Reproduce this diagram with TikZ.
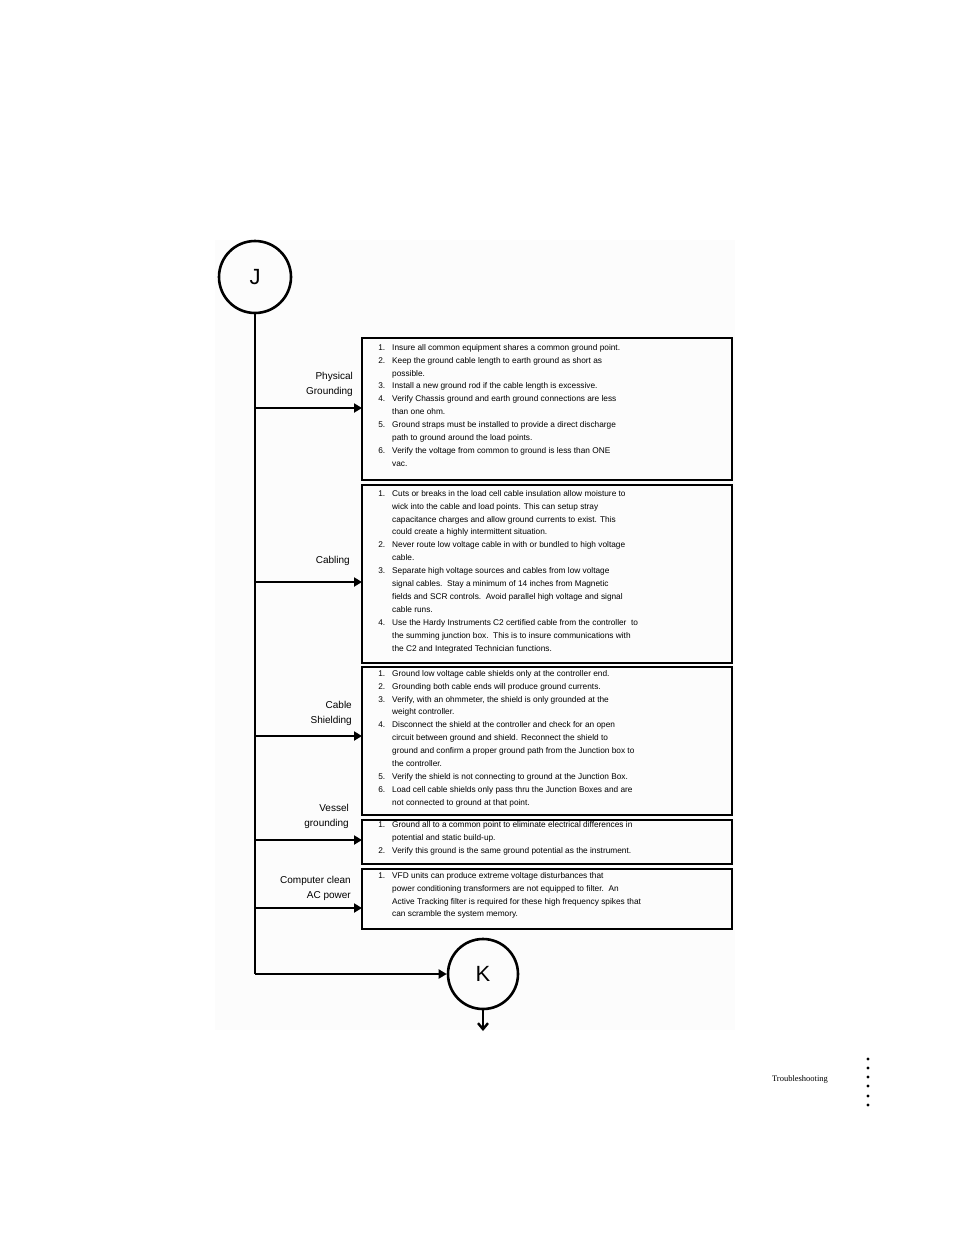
\documentclass[tikz,border=0pt]{standalone}
\usepackage{fontspec}
\setmainfont{Liberation Sans}
\newfontfamily\serifx{Liberation Serif}
\usetikzlibrary{arrows.meta}
\newcommand{\nl}[2]{\makebox[14pt][r]{#1}\hspace{7pt}#2\\}
\begin{document}
\begin{tikzpicture}[x=1pt,y=-1pt,
  boxx/.style={draw,line width=2.6pt,anchor=north west,inner sep=0pt},
  txt/.style={anchor=north west,align=left,inner sep=0pt,font=\fontsize{8.3}{12.9}\selectfont},
  lab/.style={align=right,anchor=east,font=\fontsize{10}{15}\selectfont,inner sep=0pt},
  circ/.style={draw,circle,line width=2.6pt,minimum size=72pt,font=\fontsize{22}{22}\selectfont,inner sep=0pt},
  arr/.style={line width=2.6pt,-{Triangle[length=8pt,width=9pt]}}]
\useasboundingbox (0,0) rectangle (954,1235);
\fill[black!1] (215,240) rectangle (735,1030);
\node[circ] (J) at (255,277) {J};
\node[circ,minimum size=70pt] (K) at (483,974) {K};
% boxes
\draw[line width=2.6pt] (362,338) rectangle (732,480);
\draw[line width=2.6pt] (362,485) rectangle (732,663);
\draw[line width=2.6pt] (362,667) rectangle (732,815);
\draw[line width=2.6pt] (362,820) rectangle (732,864);
\draw[line width=2.6pt] (362,869) rectangle (732,929);
\coordinate (b1) at (362,408);\coordinate (b2) at (362,582);\coordinate (b3) at (362,736);
\coordinate (b4) at (362,840);\coordinate (b5) at (362,908);
\coordinate (t1) at (255,408);\coordinate (t2) at (255,582);\coordinate (t3) at (255,736);
\coordinate (t4) at (255,840);\coordinate (t5) at (255,908);\coordinate (t6) at (255,974);
\draw[line width=2.6pt] (J.south) -- (t6);
\draw[arr] (t6) -- (K.west);
\foreach \i in {1,...,5}{\draw[arr] (t\i) -- (b\i);}
\coordinate (kd) at (483,1031);
\draw[line width=2.4pt,-{Straight Barb[length=6pt,width=10pt]}] (K.south) -- (kd);
% labels
\node[lab] (l1) at (353,384) {Physical\\Grounding};
\node[lab] (l2) at (350,561) {Cabling};
\node[lab] (l3) at (352,713) {Cable\\Shielding};
\node[lab] (l4) at (349,816) {Vessel\\grounding};
\node[lab] (l5) at (351,888) {Computer clean\\AC power};
% texts
\node[txt] (x1) at (371,344) {%
\nl{1.}{Insure all common equipment shares a common ground point.}
\nl{2.}{Keep the ground cable length to earth ground as short as}
\nl{}{possible.}
\nl{3.}{Install a new ground rod if the cable length is excessive.}
\nl{4.}{Verify Chassis ground and earth ground connections are less}
\nl{}{than one ohm.}
\nl{5.}{Ground straps must be installed to provide a direct discharge}
\nl{}{path to ground around the load points.}
\nl{6.}{Verify the voltage from common to ground is less than ONE}
\nl{}{vac.}};
\node[txt] (x2) at (371,490) {%
\nl{1.}{Cuts or breaks in the load cell cable insulation allow moisture to}
\nl{}{wick into the cable and load points. This can setup stray}
\nl{}{capacitance charges and allow ground currents to exist. This}
\nl{}{could create a highly intermittent situation.}
\nl{2.}{Never route low voltage cable in with or bundled to high voltage}
\nl{}{cable.}
\nl{3.}{Separate high voltage sources and cables from low voltage}
\nl{}{signal cables.\ \ Stay a minimum of 14 inches from Magnetic}
\nl{}{fields and SCR controls.\ \ Avoid parallel high voltage and signal}
\nl{}{cable runs.}
\nl{4.}{Use the Hardy Instruments C2 certified cable from the controller\ \ to}
\nl{}{the summing junction box.\ \ This is to insure communications with}
\nl{}{the C2 and Integrated Technician functions.}};
\node[txt] (x3) at (371,670) {%
\nl{1.}{Ground low voltage cable shields only at the controller end.}
\nl{2.}{Grounding both cable ends will produce ground currents.}
\nl{3.}{Verify, with an ohmmeter, the shield is only grounded at the}
\nl{}{weight controller.}
\nl{4.}{Disconnect the shield at the controller and check for an open}
\nl{}{circuit between ground and shield. Reconnect the shield to}
\nl{}{ground and confirm a proper ground path from the Junction box to}
\nl{}{the controller.}
\nl{5.}{Verify the shield is not connecting to ground at the Junction Box.}
\nl{6.}{Load cell cable shields only pass thru the Junction Boxes and are}
\nl{}{not connected to ground at that point.}};
\node[txt] (x4) at (371,821) {%
\nl{1.}{Ground all to a common point to eliminate electrical differences in}
\nl{}{potential and static build-up.}
\nl{2.}{Verify this ground is the same ground potential as the instrument.}};
\node[txt] (x5) at (371,872) {%
\nl{1.}{VFD units can produce extreme voltage disturbances that}
\nl{}{power conditioning transformers are not equipped to filter.\ \ An}
\nl{}{Active Tracking filter is required for these high frequency spikes that}
\nl{}{can scramble the system memory.}};
\node[anchor=center,font=\serifx\fontsize{8.5}{10}\selectfont] (ts) at (800,1079) {Troubleshooting};
\foreach \y in {1059,1068,1077,1086,1096,1105}{\fill (868,\y) circle (1.6pt);}
\end{tikzpicture}
\end{document}
